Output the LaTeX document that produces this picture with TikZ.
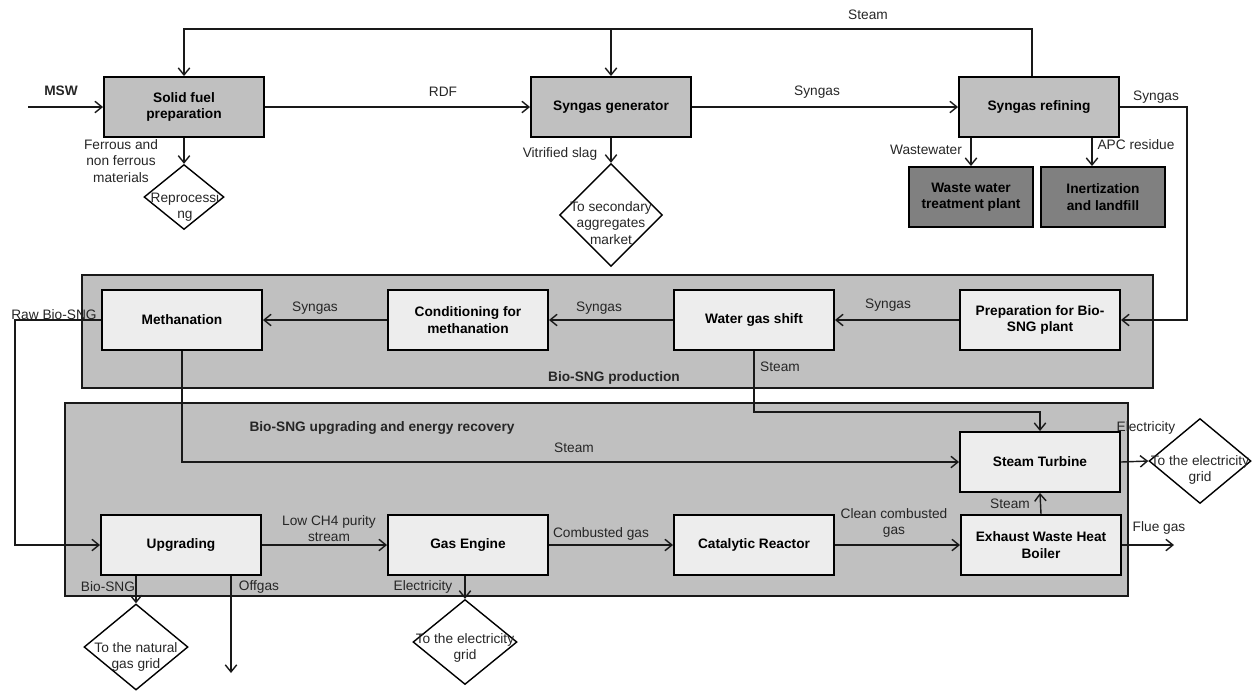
\documentclass[tikz,border=0pt]{standalone}
\usepackage{fontspec}
\setmainfont{Liberation Sans}
\usetikzlibrary{positioning,arrows.meta,shapes.geometric}
\definecolor{midgrey}{HTML}{C0C0C0}
\definecolor{lightgrey}{HTML}{EDEDED}
\definecolor{darkgrey}{HTML}{808080}

\begin{document}
\begin{tikzpicture}[x=0.02cm, y=-0.02cm, font=\fontsize{7.8}{9.2}\selectfont,
    blk/.style={draw=black, line width=1.1pt, minimum width=3.2cm, minimum height=1.2cm,
                align=center, font=\fontsize{7.8}{9.4}\selectfont\bfseries},
    dst/.style={diamond, draw=black, line width=0.8pt, inner sep=0pt},
    lbl/.style={align=center, inner sep=0pt, text=black!85},
    arr/.style={draw=black!90, line width=0.8pt, -{Straight Barb[length=4pt,width=6.5pt]}},
    zone/.style={draw=black!90, line width=1.1pt, fill=midgrey}]
    \useasboundingbox (0,0) rectangle (1259,691);

    \draw[zone] (82,275) rectangle (1153,388);
    \draw[zone] (65,403) rectangle (1128,596);
    \node[lbl] (t-prod) at (614,378) {\textbf{Bio-SNG production}};
    \node[lbl] (t-upg)  at (382,428) {\textbf{Bio-SNG upgrading and energy recovery}};

    \node[blk, fill=midgrey]  (prep)   at (184,107)  {Solid fuel\\preparation};
    \node[blk, fill=midgrey]  (gen)    at (611,107)  {Syngas generator};
    \node[blk, fill=midgrey]  (refine) at (1039,107) {Syngas refining};
    \node[blk, fill=darkgrey, minimum width=2.48cm] (wwt)   at (971,197)  {Waste water\\treatment plant};
    \node[blk, fill=darkgrey, minimum width=2.48cm] (inert) at (1103,197) {Inertization\\and landfill};

    \node[blk, fill=lightgrey] (meth)  at (182,320)  {Methanation};
    \node[blk, fill=lightgrey] (cond)  at (468,320)  {Conditioning for\\methanation};
    \node[blk, fill=lightgrey] (wgs)   at (754,320)  {Water gas shift};
    \node[blk, fill=lightgrey] (bprep) at (1040,320) {Preparation for Bio-\\SNG plant};

    \node[blk, fill=lightgrey] (turb)   at (1040,462) {Steam Turbine};
    \node[blk, fill=lightgrey] (upg)    at (181,545)  {Upgrading};
    \node[blk, fill=lightgrey] (eng)    at (468,545)  {Gas Engine};
    \node[blk, fill=lightgrey] (cat)    at (754,545)  {Catalytic Reactor};
    \node[blk, fill=lightgrey] (boiler) at (1041,545) {Exhaust Waste Heat\\Boiler};

    \node[dst, minimum width=1.6cm, minimum height=1.3cm]   (rep)    at (184,197)  {};
    \node[lbl] (t-rep) at (185,207) {Reprocessi\\ng};
    \node[dst, minimum width=2.06cm, minimum height=2.06cm] (agg)    at (611,215)  {};
    \node[lbl] (t-agg) at (611,223) {To secondary\\aggregates\\market};
    \node[dst, minimum width=2.04cm, minimum height=1.7cm]  (egrid1) at (1200,461) {};
    \node[lbl] (t-egrid1) at (1200,470) {To the electricity\\grid};
    \node[dst, minimum width=2.08cm, minimum height=1.72cm] (ngrid)  at (136,647)  {};
    \node[lbl] (t-ngrid) at (136,657) {To the natural\\gas grid};
    \node[dst, minimum width=2.08cm, minimum height=1.7cm]  (egrid2) at (465,642)  {};
    \node[lbl] (t-egrid2) at (465,648) {To the electricity\\grid};

    \coordinate (msw)  at (28,107);
    \coordinate (stm)  at (1032,29);
    \coordinate (sgx)  at (1187,0);
    \coordinate (apc)  at (1092,0);
    \coordinate (raw)  at (15,0);
    \coordinate (wgsy) at (0,412);
    \coordinate (off)  at (231,673);
    \coordinate (flue) at (1174,545);

    % top line
    \draw[arr] (msw) -- (prep.west);
    \draw[arr] (prep.east) -- (gen.west);
    \draw[arr] (gen.east) -- (refine.west);
    \draw[arr] (refine.north -| stm) -- (stm) -| (prep.north);
    \draw[arr] (gen.north |- stm) -- (gen.north);
    \draw[arr] (refine.east) -- (refine.east -| sgx) |- (bprep.east);
    \draw[arr] (prep.south) -- (rep.north);
    \draw[arr] (gen.south) -- (agg.north);
    \draw[arr] (refine.south -| wwt.north) -- (wwt.north);
    \draw[arr] (refine.south -| apc) -- (inert.north -| apc);

    % Bio-SNG production
    \draw[arr] (bprep.west) -- (wgs.east);
    \draw[arr] (wgs.west) -- (cond.east);
    \draw[arr] (cond.west) -- (meth.east);
    \draw[arr] (meth.west) -- (meth.west -| raw) |- (upg.west);
    \draw[arr] (meth.south) |- (turb.west);
    \draw[arr] (wgs.south) -- (wgs.south |- wgsy) -| (turb.north);

    % upgrading and energy recovery
    \draw[arr] (turb.east) -- (egrid1.west);
    \draw[arr] (boiler.north) -- (turb.south);
    \draw[arr] (boiler.east) -- (flue);
    \draw[arr] (upg.east) -- (eng.west);
    \draw[arr] (eng.east) -- (cat.west);
    \draw[arr] (cat.east) -- (boiler.west);
    \draw[arr] (upg.south -| ngrid.north) -- (ngrid.north);
    \draw[arr] (upg.south -| off) -- (off);
    \draw[arr] (eng.south -| egrid2.north) -- (egrid2.north);

    \node[lbl] (l-msw)   at (61,91)    {\textbf{MSW}};
    \node[lbl] (l-rdf)   at (443,92)   {RDF};
    \node[lbl] (l-syn1)  at (817,92)   {Syngas};
    \node[lbl] (l-stm1)  at (868,15)   {Steam};
    \node[lbl] (l-syn2)  at (1156,97)  {Syngas};
    \node[lbl] (l-fe)    at (121,161)  {Ferrous and\\non ferrous\\materials};
    \node[lbl] (l-slag)  at (560,154)  {Vitrified slag};
    \node[lbl] (l-ww)    at (926,150)  {Wastewater};
    \node[lbl] (l-apc)   at (1136,145) {APC residue};
    \node[lbl] (l-raw)   at (54,315)   {Raw Bio-SNG};
    \node[lbl] (l-syn3)  at (315,308)  {Syngas};
    \node[lbl] (l-syn4)  at (599,308)  {Syngas};
    \node[lbl] (l-syn5)  at (888,305)  {Syngas};
    \node[lbl] (l-stm2)  at (780,367)  {Steam};
    \node[lbl] (l-stm3)  at (574,448)  {Steam};
    \node[lbl] (l-el1)   at (1146,428) {Electricity};
    \node[lbl] (l-stm4)  at (1010,504) {Steam};
    \node[lbl] (l-flue)  at (1159,528) {Flue gas};
    \node[lbl] (l-clean) at (894,523)  {Clean combusted\\gas};
    \node[lbl] (l-comb)  at (601,534)  {Combusted gas};
    \node[lbl] (l-low)   at (329,529)  {Low CH4 purity\\stream};
    \node[lbl] (l-bio)   at (108,587)  {Bio-SNG};
    \node[lbl] (l-off)   at (259,587)  {Offgas};
    \node[lbl] (l-el2)   at (423,587)  {Electricity};
\end{tikzpicture}
\end{document}
